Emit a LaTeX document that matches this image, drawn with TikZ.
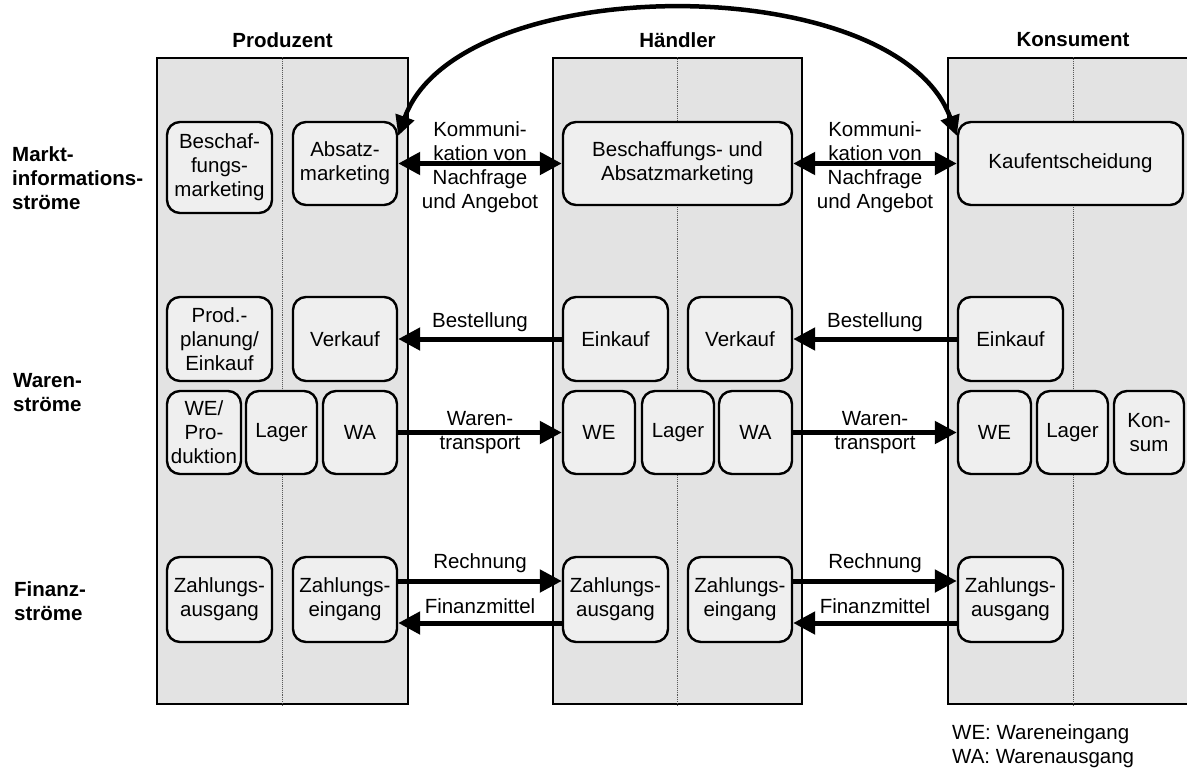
\documentclass[tikz,border=0pt]{standalone}
\usepackage{fontspec}
\setmainfont{Liberation Sans}
\usetikzlibrary{arrows.meta,calc}
\definecolor{colfill}{HTML}{E3E3E3}
\definecolor{boxfill}{HTML}{EFEFEF}
% rounded process box given by its left, top, right and bottom edge
\newcommand\flowbox[6]{%
  \node[fbox, minimum width={#4-#2}, minimum height={#5-#3}]
    (#1) at ({(#2+#4)/2},{(#3+#5)/2}) {#6};}
\begin{document}
\begin{tikzpicture}[x=1pt,y=-1pt,
  font=\fontsize{20.5}{24}\selectfont,
  fbox/.style={draw, line width=2.4pt, fill=boxfill, rounded corners=13pt,
    align=center, inner sep=1pt},
  stage/.style={draw, line width=2pt, fill=colfill, inner sep=0pt},
  divider/.style={densely dotted, line width=0.9pt, black!65},
  head/.style={font=\fontsize{20.5}{24}\selectfont\bfseries},
  rowlabel/.style={font=\fontsize{20.5}{24}\selectfont\bfseries, align=left,
    anchor=west, inner sep=0pt},
  lbl/.style={align=center, inner sep=0pt},
  flow/.style={line width=5pt, -{Triangle[length=22pt,width=22pt]}},
  flowboth/.style={line width=5pt,
    {Triangle[length=22pt,width=22pt]}-{Triangle[length=22pt,width=22pt]}},
  arcboth/.style={line width=4.5pt,
    {Triangle[length=20pt,width=19pt]}-{Triangle[length=20pt,width=19pt]}},
]
\useasboundingbox (0,0) rectangle (1187,769);
\clip (0,0) rectangle (1187,769);

% stages
\node[stage, minimum width=251pt, minimum height=646pt] (colP) at (282.5,381) {};
\node[stage, minimum width=249pt, minimum height=646pt] (colH) at (677.5,381) {};
\node[stage, minimum width=250pt, minimum height=646pt] (colK) at (1073,381) {};
\draw[divider] (colP.north) -- (colP.south);
\draw[divider] (colH.north) -- (colH.south);
\draw[divider] (colK.north) -- (colK.south);

\node[head] (hP) at (282.5,40) {Produzent};
\node[head] (hH) at (677.5,40) {Händler};
\node[head] (hK) at (1073,40) {Konsument};

% row titles
\node[rowlabel] (rMarkt) at (12,178) {Markt-\\informations-\\ströme};
\node[rowlabel] (rWaren) at (13,393) {Waren-\\ströme};
\node[rowlabel] (rFinanz) at (14,601) {Finanz-\\ströme};

% Produzent
\flowbox{beschP}{167}{122}{272}{213}{Beschaf-\\fungs-\\marketing}
\flowbox{absP}{293}{122}{397}{205}{Absatz-\\marketing}
\flowbox{prodP}{167}{297}{272}{381}{Prod.-\\planung/\\Einkauf}
\flowbox{verkP}{293}{297}{397}{381}{Verkauf}
\flowbox{weP}{167}{391}{241}{474}{WE/\\Pro-\\duktion}
\flowbox{lagP}{246}{391}{317}{474}{Lager}
\flowbox{waP}{323}{391}{397}{474}{WA}
\flowbox{zaP}{167}{557}{272}{642}{Zahlungs-\\ausgang}
\flowbox{zeP}{293}{557}{397}{642}{Zahlungs-\\eingang}

% Haendler
\flowbox{bamH}{563}{122}{792}{205}{Beschaffungs- und\\Absatzmarketing}
\flowbox{einkH}{563}{297}{668}{381}{Einkauf}
\flowbox{verkH}{688}{297}{792}{381}{Verkauf}
\flowbox{weH}{563}{391}{635}{474}{WE}
\flowbox{lagH}{642}{391}{714}{474}{Lager}
\flowbox{waH}{719}{391}{792}{474}{WA}
\flowbox{zaH}{563}{557}{668}{642}{Zahlungs-\\ausgang}
\flowbox{zeH}{688}{557}{792}{642}{Zahlungs-\\eingang}

% Konsument
\flowbox{kaufK}{958}{122}{1183}{205}{Kaufentscheidung}
\flowbox{einkK}{958}{297}{1063}{381}{Einkauf}
\flowbox{weK}{958}{391}{1031}{474}{WE}
\flowbox{lagK}{1037}{391}{1108}{474}{Lager}
\flowbox{konK}{1114}{391}{1184}{474}{Kon-\\sum}
\flowbox{zaK}{958}{557}{1063}{642}{Zahlungs-\\ausgang}

% market information
\draw[arcboth] ([yshift=-15pt]absP.north east)
  .. controls +(60,-167) and +(-60,-167) .. ([yshift=-15pt]kaufK.north west);
\draw[flowboth] (absP.east) -- node[lbl, yshift=-4pt]
  {Kommuni-\\kation von\\Nachfrage\\und Angebot} (bamH.west);
\draw[flowboth] (bamH.east) -- node[lbl, yshift=-4pt]
  {Kommuni-\\kation von\\Nachfrage\\und Angebot} (kaufK.west);

% goods
\draw[flow] (einkH.west) -- node[lbl, yshift=17pt] {Bestellung} (verkP.east);
\draw[flow] (einkK.west) -- node[lbl, yshift=17pt] {Bestellung} (verkH.east);
\draw[flow] (waP.east) -- node[lbl] {Waren-\\transport} (weH.west);
\draw[flow] (waH.east) -- node[lbl] {Waren-\\transport} (weK.west);

% finance
\draw[flow] ([yshift=18.5pt]zeP.east) -- node[lbl, yshift=18pt] {Rechnung}
  ([yshift=18.5pt]zaH.west);
\draw[flow] ([yshift=18.5pt]zeH.east) -- node[lbl, yshift=18pt] {Rechnung}
  ([yshift=18.5pt]zaK.west);
\draw[flow] ([yshift=-23.5pt]zaH.west) -- node[lbl, yshift=17pt] {Finanzmittel}
  ([yshift=-23.5pt]zeP.east);
\draw[flow] ([yshift=-23.5pt]zaK.west) -- node[lbl, yshift=17pt] {Finanzmittel}
  ([yshift=-23.5pt]zeH.east);

% legend
\node[lbl, align=left, anchor=west] (legend) at (952,746)
  {WE: Wareneingang\\WA: Warenausgang};
\end{tikzpicture}
\end{document}
